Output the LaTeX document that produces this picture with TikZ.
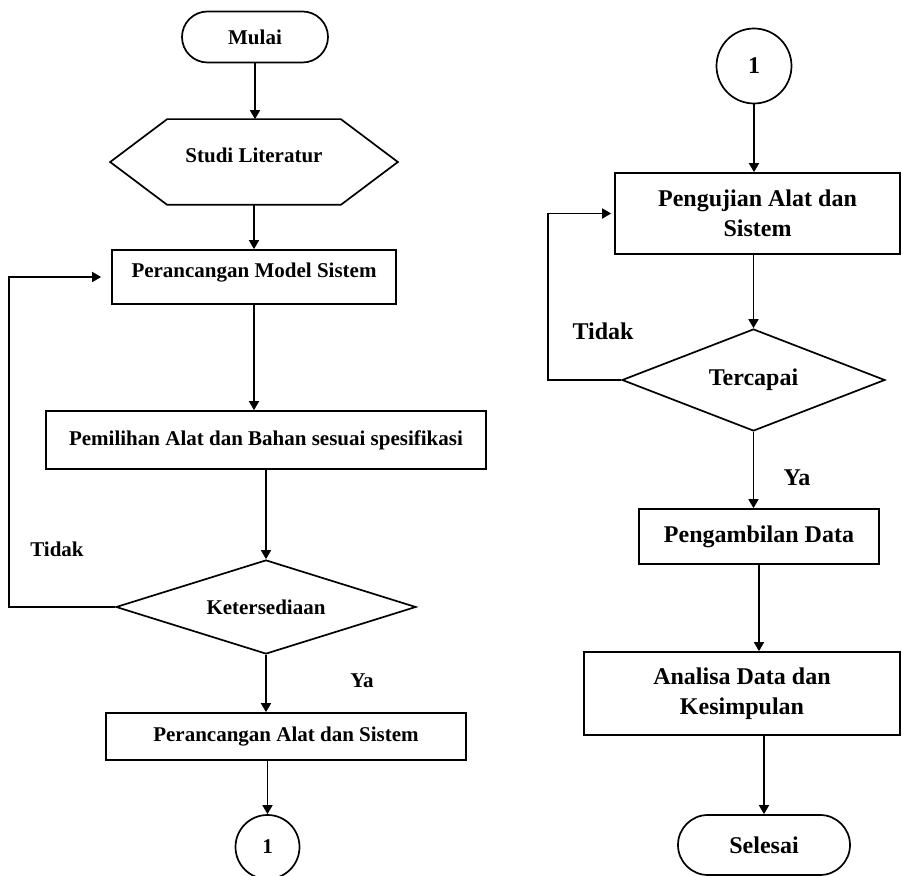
\documentclass[tikz,border=0pt]{standalone}
\usepackage{fontspec}
\setmainfont{Liberation Serif}
\usepackage{tikz}
\usetikzlibrary{calc, positioning, arrows.meta, shapes.geometric}

\newcommand{\leftfont}{\fontsize{10.5}{13}\selectfont\bfseries}
\newcommand{\rightfont}{\fontsize{12}{15}\selectfont\bfseries}

\begin{document}
\begin{tikzpicture}[x=0.5pt, y=-0.5pt, line width=0.85pt,
  >={Triangle[length=4.5pt, width=5pt]},
  box/.style={draw, rectangle, inner sep=0pt},
  term/.style={draw, rectangle, rounded corners=#1, inner sep=0pt},
  decision/.style={draw, diamond, aspect=3, inner sep=0pt},
  connector/.style={draw, circle, inner sep=0pt},
  toptext/.style={text depth=7.2pt}]
  \useasboundingbox (0,0) rectangle (902,876);

  % Left column
  \node[term=12.75pt, font=\leftfont, minimum width=73pt, minimum height=25.5pt] (mulai) at (255,37) {Mulai};
  \node[inner sep=0pt, font=\leftfont, toptext, minimum width=143pt, minimum height=42pt] (studi) at (254,162) {Studi Literatur};
  \draw (studi.west) -- ([xshift=28.5pt]studi.north west) -- ([xshift=-28.5pt]studi.north east)
    -- (studi.east) -- ([xshift=-28.5pt]studi.south east) -- ([xshift=28.5pt]studi.south west) -- cycle;
  \node[box, font=\leftfont, toptext, minimum width=142pt, minimum height=27pt] (model) at (254,277) {Perancangan Model Sistem};
  \node[box, font=\leftfont, minimum width=220pt, minimum height=29pt] (pilih) at (266,440) {Pemilihan Alat dan Bahan sesuai spesifikasi};
  \node[decision, font=\leftfont, minimum width=150pt, minimum height=47pt] (sedia) at (266,607) {Ketersediaan};
  \node[box, font=\leftfont, minimum width=180pt, minimum height=23.5pt] (rancang) at (286,736.5) {Perancangan Alat dan Sistem};
  \node[connector, font=\leftfont, minimum size=32pt] (satuA) at (267.5,847) {1};

  % Right column
  \node[connector, font=\rightfont, minimum size=37.5pt] (satuB) at (754,66) {1};
  \node[box, font=\rightfont, align=center, minimum width=142.5pt, minimum height=40.5pt] (uji) at (757.5,213.5) {Pengujian Alat dan\\Sistem};
  \node[decision, font=\rightfont, minimum width=131.5pt, minimum height=51pt] (capai) at (753.5,380) {Tercapai};
  \node[box, font=\rightfont, minimum width=120pt, minimum height=27.5pt] (ambil) at (759,536.5) {Pengambilan Data};
  \node[box, font=\rightfont, align=center, minimum width=158pt, minimum height=41.5pt] (analisa) at (742,693.5) {Analisa Data dan\\Kesimpulan};
  \node[term=15pt, font=\rightfont, minimum width=86pt, minimum height=30pt] (selesai) at (764,845) {Selesai};

  % Labels
  \node[font=\leftfont] (tidakA) at (57,549) {Tidak};
  \node[font=\leftfont] (yaA) at (362,681) {Ya};
  \node[font=\rightfont] (tidakB) at (603,331) {Tidak};
  \node[font=\rightfont] (yaB) at (797,478) {Ya};

  % Connectors
  \draw[->] (mulai.south) -- (mulai.south |- studi.north);
  \draw[->] (studi.south) -- (studi.south |- model.north);
  \draw[->] (model.south) -- (model.south |- pilih.north);
  \draw[->] (pilih.south) -- (sedia.north);
  \draw[->] (sedia.south) -- (sedia.south |- rancang.north);
  \draw[->] (satuA.north |- rancang.south) -- (satuA.north);
  \draw[->, shorten >=5pt] (sedia.west) -- (sedia.west -| 9,0) |- (model.west);

  \draw[->] (satuB.south) -- (satuB.south |- uji.north);
  \draw[->] (capai.north |- uji.south) -- (capai.north);
  \draw[->, shorten >=1.5pt] (capai.west) -- (capai.west -| 548,0) |- (uji.west);
  \draw[->] (capai.south) -- (capai.south |- ambil.north);
  \draw[->] (ambil.south) -- (ambil.south |- analisa.north);
  \draw[->] (selesai.north |- analisa.south) -- (selesai.north);
\end{tikzpicture}
\end{document}
